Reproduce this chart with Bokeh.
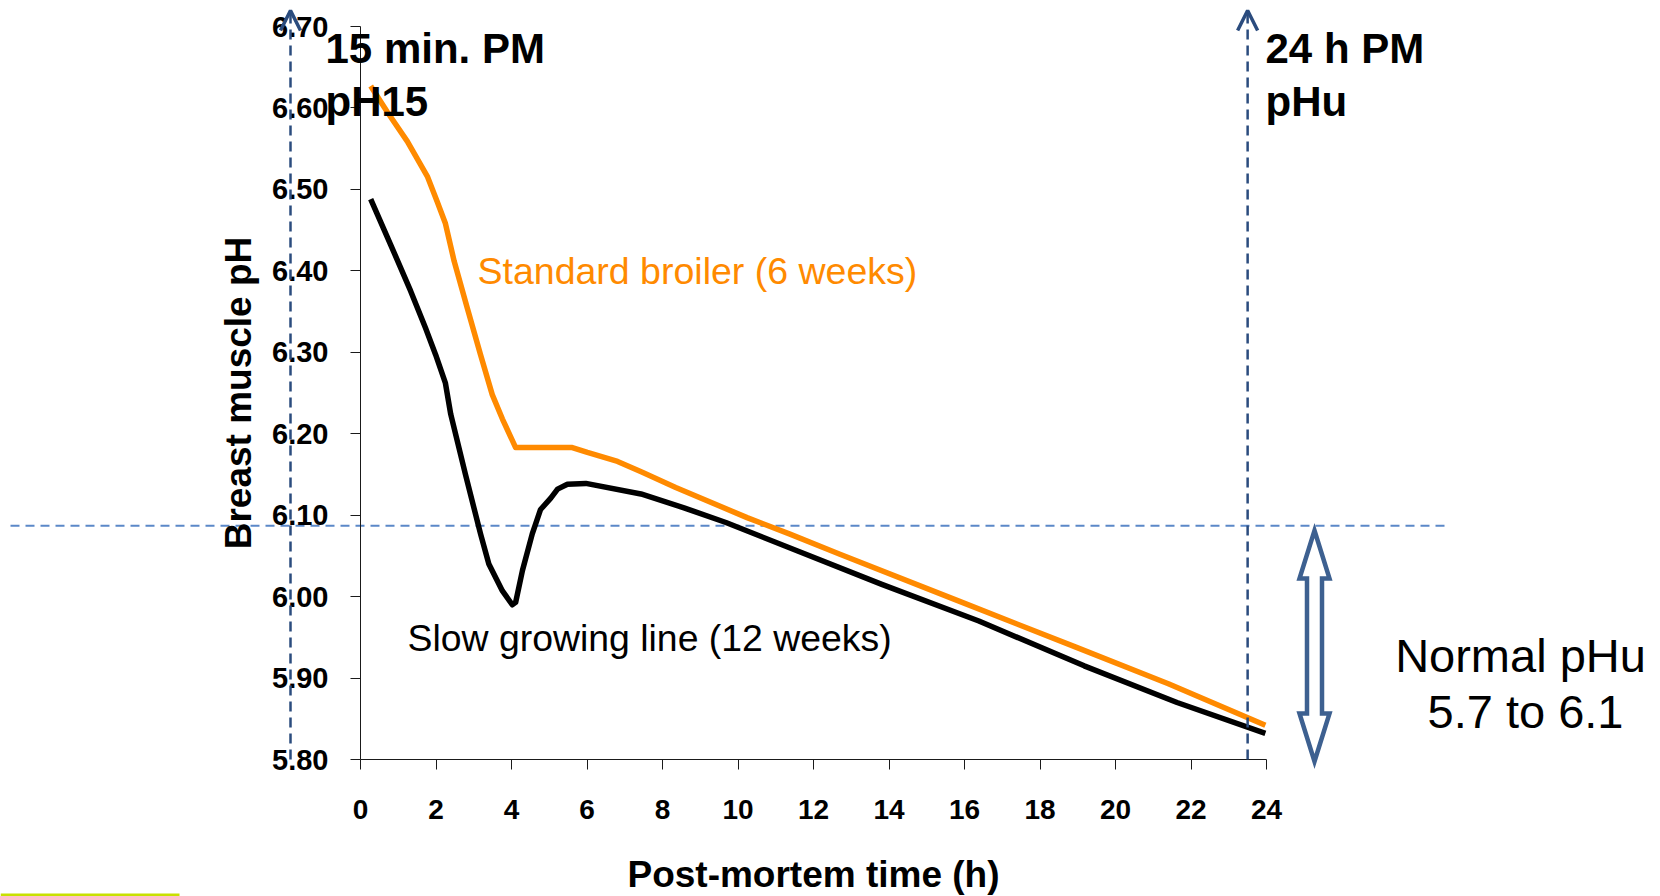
from bokeh.plotting import figure
from bokeh.models import LinearAxis, FixedTicker, NumeralTickFormatter, Label, Arrow, OpenHead, Range1d
from bokeh.embed import file_html
from bokeh.resources import INLINE

# ---------------- data ----------------
hours_std = [0.27, 0.71, 1.24, 1.77, 2.03, 2.25, 2.48, 2.83, 3.18, 3.49, 3.76, 4.07, 4.11,
             5.61, 6.01, 6.81, 7.45, 8.35, 10.24, 11.36, 12.70, 15.82, 18.95, 21.40, 23.97]
ph_std = [6.627, 6.595, 6.559, 6.516, 6.485, 6.458, 6.412, 6.354, 6.297, 6.248, 6.218, 6.187, 6.183,
          6.183, 6.177, 6.166, 6.153, 6.134, 6.097, 6.077, 6.052, 5.995, 5.938, 5.893, 5.842]

hours_slow = [0.27, 0.80, 1.33, 1.72, 1.99, 2.25, 2.39, 2.78, 3.18, 3.40, 3.76, 4.02, 4.11, 4.29,
              4.55, 4.77, 5.04, 5.22, 5.48, 5.97, 7.43, 8.57, 9.68, 11.58, 13.81, 16.38, 19.17,
              21.63, 23.97]
ph_slow = [6.488, 6.432, 6.375, 6.330, 6.297, 6.262, 6.224, 6.150, 6.077, 6.040, 6.007, 5.990,
           5.993, 6.032, 6.077, 6.107, 6.121, 6.132, 6.138, 6.139, 6.126, 6.109, 6.091, 6.056,
           6.015, 5.970, 5.915, 5.870, 5.832]

x_ticks = [0, 2, 4, 6, 8, 10, 12, 14, 16, 18, 20, 22, 24]
y_ticks = [5.80, 5.90, 6.00, 6.10, 6.20, 6.30, 6.40, 6.50, 6.60, 6.70]

phu_time = 23.5          # 24 h PM marker
normal_phu_top = 6.087   # upper limit line

# ---------------- layout ----------------
W, H = 1660, 896
PX0, PX24 = 360, 1266     # canvas x of hour 0 and 24
PY_LO, PY_HI = 759, 26    # canvas y of pH 5.80 and 6.70
xs_ = (PX24 - PX0) / 24.0
ys_ = (PY_LO - PY_HI) / 0.9
x_start, x_end = -PX0 / xs_, 24 + (W - PX24) / xs_
y_start, y_end = 5.80 - (H - PY_LO) / ys_, 6.70 + PY_HI / ys_


def fx(px):  # canvas px -> data x
    return (px - PX0) / xs_


def fy(py):  # canvas px -> data y
    return 5.80 + (PY_LO - py) / ys_


FONT = "Liberation Sans"

p = figure(width=W, height=H, x_range=Range1d(x_start, x_end), y_range=Range1d(y_start, y_end),
           output_backend="svg", toolbar_location=None, min_border=0,
           x_axis_type=None, y_axis_type=None)
p.outline_line_color = None
p.grid.visible = False
p.background_fill_color = "white"
p.border_fill_color = "white"

xaxis = LinearAxis(fixed_location=5.80, bounds=(0, 24), ticker=FixedTicker(ticks=x_ticks),
                   axis_label="Post-mortem time (h)")
yaxis = LinearAxis(fixed_location=0, bounds=(5.80, 6.70), ticker=FixedTicker(ticks=y_ticks),
                   formatter=NumeralTickFormatter(format="0.00"), axis_label="Breast muscle pH")
for ax in (xaxis, yaxis):
    ax.axis_line_color = "#1a1a1a"
    ax.axis_line_width = 1
    ax.major_tick_line_color = "#1a1a1a"
    ax.major_tick_out = 10
    ax.major_tick_in = 0
    ax.minor_tick_line_color = None
    ax.major_label_text_font = FONT
    ax.major_label_text_font_style = "bold"
    ax.major_label_text_font_size = "28px"
    ax.major_label_text_color = "black"
    ax.axis_label_text_font = FONT
    ax.axis_label_text_font_style = "bold"
    ax.axis_label_text_font_size = "37px"
    ax.axis_label_text_color = "black"
yaxis.major_label_text_font_size = "29px"
xaxis.major_label_standoff = 30
xaxis.axis_label_standoff = 32
yaxis.major_label_standoff = 22
yaxis.axis_label_standoff = 10
p.add_layout(xaxis, "below")
p.add_layout(yaxis, "left")

# horizontal dashed limit line
p.line([fx(10), fx(1447)], [normal_phu_top, normal_phu_top], line_color="#5B88C8",
       line_width=2, line_dash="9 6")

# curves
p.line(hours_std, ph_std, line_color="#FF8A00", line_width=5.5, line_join="round")
p.line(hours_slow, ph_slow, line_color="black", line_width=5.5, line_join="round")

# vertical dashed arrows
DB = "#2B4C7E"
for xv in (fx(290), phu_time):
    p.add_layout(Arrow(x_start=xv, y_start=5.80, x_end=xv, y_end=fy(10),
                       line_color=DB, line_width=2.5, line_dash="10 6",
                       end=OpenHead(size=20, line_color=DB, line_width=3.5)))

# double block arrow (normal pHu range)
cx = 1314
pts = [(0, 530), (15, 578), (7.5, 578), (7.5, 713), (15, 713), (0, 761),
       (-15, 713), (-7.5, 713), (-7.5, 578), (-15, 578)]
p.patch([fx(cx + dx) for dx, _ in pts], [fy(py) for _, py in pts],
        fill_color="white", line_color="#3D6090", line_width=4.5, line_join="miter")

# texts (py = desired baseline; corrected for observed renderer offset)
def lab(text, px, py, size, style="normal", color="black", align="left"):
    p.add_layout(Label(x=fx(px), y=fy(py - 0.37 * size), text=text, text_font=FONT,
                       text_font_size=f"{size}px", text_font_style=style, text_color=color,
                       text_align=align, text_baseline="alphabetic"))

lab("15 min. PM", 325, 64, 42, "bold")
lab("pH15", 325, 117, 42, "bold")
lab("24 h PM", 1265, 64, 42, "bold")
lab("pHu", 1265, 117, 42, "bold")
lab("Standard broiler (6 weeks)", 477, 284, 37.5, color="#FF8A00")
lab("Slow growing line (12 weeks)", 407, 651, 37.4)
lab("Normal pHu", 1520, 672, 47, align="center")
lab("5.7 to 6.1", 1525, 728, 47, align="center")

# small green bar at bottom-left
p.line([fx(0), fx(179)], [fy(894.5), fy(894.5)], line_color="#C8E000", line_width=3)

open("out.html", "w").write(file_html(p, INLINE))
